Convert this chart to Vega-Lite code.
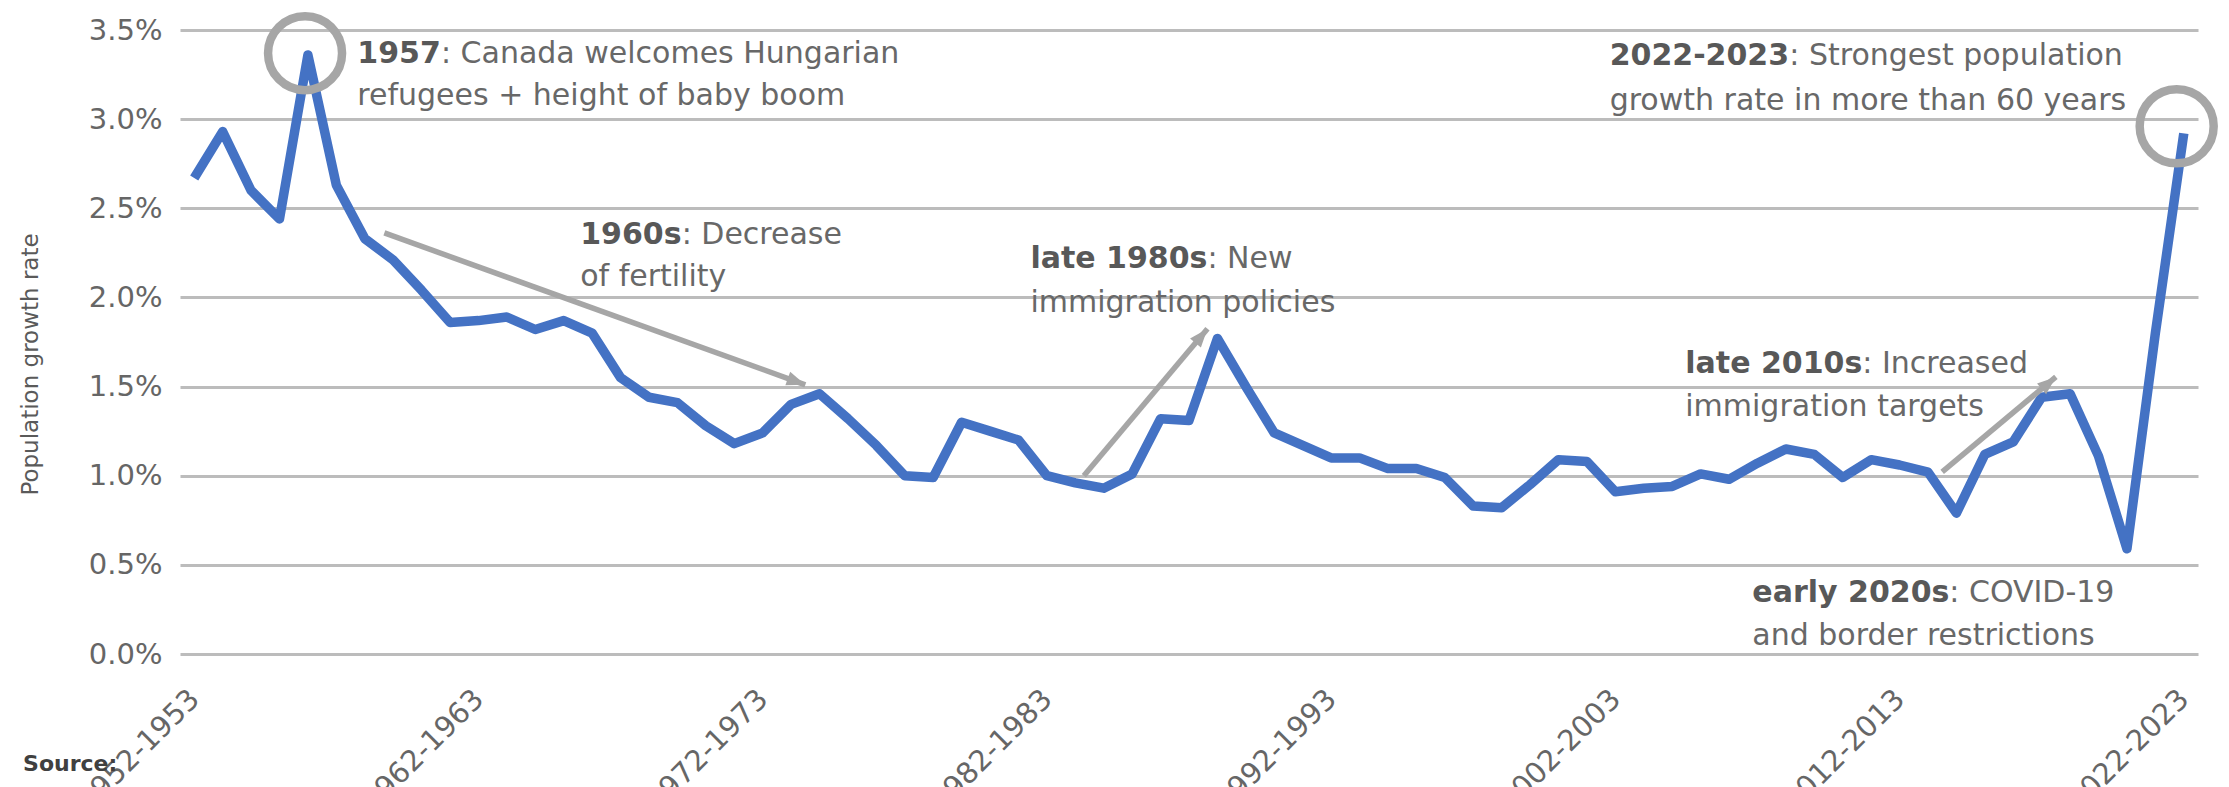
{
  "$schema": "https://vega.github.io/schema/vega-lite/v6.json",
  "width": 2018,
  "height": 624,
  "autosize": {"type": "none"},
  "padding": {"left": 180, "top": 30, "right": 31, "bottom": 133},
  "background": "white",
  "config": {"font": "DejaVu Sans", "view": {"stroke": null}},
  "datasets": {
    "growth": [
      {"period": "1952-1953", "year": 1952, "rate": 0.0267},
      {"period": "1953-1954", "year": 1953, "rate": 0.0293},
      {"period": "1954-1955", "year": 1954, "rate": 0.0260},
      {"period": "1955-1956", "year": 1955, "rate": 0.0244},
      {"period": "1956-1957", "year": 1956, "rate": 0.0336},
      {"period": "1957-1958", "year": 1957, "rate": 0.0263},
      {"period": "1958-1959", "year": 1958, "rate": 0.0233},
      {"period": "1959-1960", "year": 1959, "rate": 0.0221},
      {"period": "1960-1961", "year": 1960, "rate": 0.0204},
      {"period": "1961-1962", "year": 1961, "rate": 0.0186},
      {"period": "1962-1963", "year": 1962, "rate": 0.0187},
      {"period": "1963-1964", "year": 1963, "rate": 0.0189},
      {"period": "1964-1965", "year": 1964, "rate": 0.0182},
      {"period": "1965-1966", "year": 1965, "rate": 0.0187},
      {"period": "1966-1967", "year": 1966, "rate": 0.0180},
      {"period": "1967-1968", "year": 1967, "rate": 0.0155},
      {"period": "1968-1969", "year": 1968, "rate": 0.0144},
      {"period": "1969-1970", "year": 1969, "rate": 0.0141},
      {"period": "1970-1971", "year": 1970, "rate": 0.0128},
      {"period": "1971-1972", "year": 1971, "rate": 0.0118},
      {"period": "1972-1973", "year": 1972, "rate": 0.0124},
      {"period": "1973-1974", "year": 1973, "rate": 0.0140},
      {"period": "1974-1975", "year": 1974, "rate": 0.0146},
      {"period": "1975-1976", "year": 1975, "rate": 0.0132},
      {"period": "1976-1977", "year": 1976, "rate": 0.0117},
      {"period": "1977-1978", "year": 1977, "rate": 0.0100},
      {"period": "1978-1979", "year": 1978, "rate": 0.0099},
      {"period": "1979-1980", "year": 1979, "rate": 0.0130},
      {"period": "1980-1981", "year": 1980, "rate": 0.0125},
      {"period": "1981-1982", "year": 1981, "rate": 0.0120},
      {"period": "1982-1983", "year": 1982, "rate": 0.0100},
      {"period": "1983-1984", "year": 1983, "rate": 0.0096},
      {"period": "1984-1985", "year": 1984, "rate": 0.0093},
      {"period": "1985-1986", "year": 1985, "rate": 0.0101},
      {"period": "1986-1987", "year": 1986, "rate": 0.0132},
      {"period": "1987-1988", "year": 1987, "rate": 0.0131},
      {"period": "1988-1989", "year": 1988, "rate": 0.0177},
      {"period": "1989-1990", "year": 1989, "rate": 0.0150},
      {"period": "1990-1991", "year": 1990, "rate": 0.0124},
      {"period": "1991-1992", "year": 1991, "rate": 0.0117},
      {"period": "1992-1993", "year": 1992, "rate": 0.0110},
      {"period": "1993-1994", "year": 1993, "rate": 0.0110},
      {"period": "1994-1995", "year": 1994, "rate": 0.0104},
      {"period": "1995-1996", "year": 1995, "rate": 0.0104},
      {"period": "1996-1997", "year": 1996, "rate": 0.0099},
      {"period": "1997-1998", "year": 1997, "rate": 0.0083},
      {"period": "1998-1999", "year": 1998, "rate": 0.0082},
      {"period": "1999-2000", "year": 1999, "rate": 0.0095},
      {"period": "2000-2001", "year": 2000, "rate": 0.0109},
      {"period": "2001-2002", "year": 2001, "rate": 0.0108},
      {"period": "2002-2003", "year": 2002, "rate": 0.0091},
      {"period": "2003-2004", "year": 2003, "rate": 0.0093},
      {"period": "2004-2005", "year": 2004, "rate": 0.0094},
      {"period": "2005-2006", "year": 2005, "rate": 0.0101},
      {"period": "2006-2007", "year": 2006, "rate": 0.0098},
      {"period": "2007-2008", "year": 2007, "rate": 0.0107},
      {"period": "2008-2009", "year": 2008, "rate": 0.0115},
      {"period": "2009-2010", "year": 2009, "rate": 0.0112},
      {"period": "2010-2011", "year": 2010, "rate": 0.0099},
      {"period": "2011-2012", "year": 2011, "rate": 0.0109},
      {"period": "2012-2013", "year": 2012, "rate": 0.0106},
      {"period": "2013-2014", "year": 2013, "rate": 0.0102},
      {"period": "2014-2015", "year": 2014, "rate": 0.0079},
      {"period": "2015-2016", "year": 2015, "rate": 0.0112},
      {"period": "2016-2017", "year": 2016, "rate": 0.0119},
      {"period": "2017-2018", "year": 2017, "rate": 0.0144},
      {"period": "2018-2019", "year": 2018, "rate": 0.0146},
      {"period": "2019-2020", "year": 2019, "rate": 0.0111},
      {"period": "2020-2021", "year": 2020, "rate": 0.0059},
      {"period": "2021-2022", "year": 2021, "rate": 0.0180},
      {"period": "2022-2023", "year": 2022, "rate": 0.0292}
    ],
    "notes": [
      {"year": 1957.74, "rate": 0.03315, "text": "1957", "weight": "bold"},
      {"year": 1960.68, "rate": 0.03315, "text": ": Canada welcomes Hungarian", "weight": "regular"},
      {"year": 1957.74, "rate": 0.0308, "text": "refugees + height of baby boom", "weight": "regular"},
      {"year": 1965.58, "rate": 0.0230, "text": "1960s", "weight": "bold"},
      {"year": 1969.15, "rate": 0.0230, "text": ": Decrease", "weight": "regular"},
      {"year": 1965.58, "rate": 0.02065, "text": "of fertility", "weight": "regular"},
      {"year": 1981.42, "rate": 0.02164, "text": "late 1980s", "weight": "bold"},
      {"year": 1987.65, "rate": 0.02164, "text": ": New", "weight": "regular"},
      {"year": 1981.42, "rate": 0.0192, "text": "immigration policies", "weight": "regular"},
      {"year": 2004.46, "rate": 0.01575, "text": "late 2010s", "weight": "bold"},
      {"year": 2010.69, "rate": 0.01575, "text": ": Increased", "weight": "regular"},
      {"year": 2004.46, "rate": 0.01335, "text": "immigration targets", "weight": "regular"},
      {"year": 2006.82, "rate": 0.0029, "text": "early 2020s", "weight": "bold"},
      {"year": 2013.75, "rate": 0.0029, "text": ": COVID-19", "weight": "regular"},
      {"year": 2006.82, "rate": 0.0005, "text": "and border restrictions", "weight": "regular"},
      {"year": 2001.8, "rate": 0.03304, "text": "2022-2023", "weight": "bold"},
      {"year": 2008.12, "rate": 0.03304, "text": ": Strongest population", "weight": "regular"},
      {"year": 2001.8, "rate": 0.03052, "text": "growth rate in more than 60 years", "weight": "regular"}
    ],
    "arrows": [
      {"start_year": 1958.69, "start_rate": 0.02362, "end_year": 1973.5, "end_rate": 0.0151},
      {"start_year": 1983.3, "start_rate": 0.0100, "end_year": 1987.65, "end_rate": 0.01824},
      {"start_year": 2013.5, "start_rate": 0.01022, "end_year": 2017.5, "end_rate": 0.01554}
    ],
    "rings": [
      {"year": 1955.9, "rate": 0.0337},
      {"year": 2021.75, "rate": 0.0296}
    ]
  },
  "layer": [
    {
      "data": {"name": "growth"},
      "mark": {"type": "line", "color": "#4472C4", "strokeWidth": 9.5, "strokeJoin": "round"},
      "encoding": {
        "x": {
          "field": "year", "type": "quantitative",
          "scale": {"domain": [1951.5, 2022.5], "nice": false, "zero": false},
          "axis": {
            "values": [1952, 1962, 1972, 1982, 1992, 2002, 2012, 2022],
            "labelExpr": "datum.value + '-' + (datum.value + 1)",
            "labelAngle": -45, "labelAlign": "right", "labelBaseline": "middle",
            "labelPadding": 40, "labelFontSize": 29, "labelColor": "#666666",
            "labelFlush": false, "labelOverlap": false,
            "grid": false, "ticks": false, "domain": false, "title": null
          }
        },
        "y": {
          "field": "rate", "type": "quantitative",
          "scale": {"domain": [0, 0.035], "nice": false},
          "axis": {
            "values": [0, 0.005, 0.01, 0.015, 0.02, 0.025, 0.03, 0.035],
            "format": ".1%",
            "labelFontSize": 29, "labelColor": "#666666", "labelPadding": 18,
            "grid": true, "gridColor": "#bcbcbc", "gridWidth": 3,
            "ticks": false, "domain": false,
            "title": "Population growth rate", "titleFontSize": 23, "titleFontWeight": "normal",
            "titleColor": "#5a5a5a", "titleX": -150, "titleY": 334, "titleAngle": -90,
            "titleAlign": "center", "titleBaseline": "middle"
          }
        }
      }
    },
    {
      "data": {"name": "arrows"},
      "mark": {"type": "rule", "color": "#a6a6a6", "strokeWidth": 5.5},
      "encoding": {
        "x": {"field": "start_year", "type": "quantitative"},
        "y": {"field": "start_rate", "type": "quantitative"},
        "x2": {"field": "end_year"},
        "y2": {"field": "end_rate"}
      }
    },
    {
      "data": {"values": [{}]},
      "mark": {"type": "point", "shape": "M0,0L0.55,1.45L-0.55,1.45Z", "filled": true, "color": "#a6a6a6", "size": 660, "opacity": 1, "angle": 109.8},
      "encoding": {"x": {"datum": 1973.5, "type": "quantitative"}, "y": {"datum": 0.0151, "type": "quantitative"}}
    },
    {
      "data": {"values": [{}]},
      "mark": {"type": "point", "shape": "M0,0L0.55,1.45L-0.55,1.45Z", "filled": true, "color": "#a6a6a6", "size": 660, "opacity": 1, "angle": 40.1},
      "encoding": {"x": {"datum": 1987.65, "type": "quantitative"}, "y": {"datum": 0.01824, "type": "quantitative"}}
    },
    {
      "data": {"values": [{}]},
      "mark": {"type": "point", "shape": "M0,0L0.55,1.45L-0.55,1.45Z", "filled": true, "color": "#a6a6a6", "size": 660, "opacity": 1, "angle": 50.2},
      "encoding": {"x": {"datum": 2017.5, "type": "quantitative"}, "y": {"datum": 0.01554, "type": "quantitative"}}
    },
    {
      "data": {"name": "rings"},
      "mark": {"type": "point", "shape": "circle", "filled": false, "color": "#a6a6a6", "size": 5476, "strokeWidth": 8.5, "opacity": 1},
      "encoding": {
        "x": {"field": "year", "type": "quantitative"},
        "y": {"field": "rate", "type": "quantitative"}
      }
    },
    {
      "data": {"name": "notes"},
      "transform": [{"filter": "datum.weight == 'bold'"}],
      "mark": {"type": "text", "align": "left", "baseline": "alphabetic", "fontSize": 30, "fontWeight": "bold", "color": "#585858"},
      "encoding": {
        "x": {"field": "year", "type": "quantitative"},
        "y": {"field": "rate", "type": "quantitative"},
        "text": {"field": "text"}
      }
    },
    {
      "data": {"name": "notes"},
      "transform": [{"filter": "datum.weight == 'regular'"}],
      "mark": {"type": "text", "align": "left", "baseline": "alphabetic", "fontSize": 30, "fontWeight": "normal", "color": "#686868"},
      "encoding": {
        "x": {"field": "year", "type": "quantitative"},
        "y": {"field": "rate", "type": "quantitative"},
        "text": {"field": "text"}
      }
    },
    {
      "data": {"values": [{}]},
      "mark": {"type": "text", "align": "left", "baseline": "alphabetic", "fontSize": 22, "fontWeight": "bold", "color": "#404040"},
      "encoding": {
        "x": {"datum": 1945.98, "type": "quantitative"},
        "y": {"datum": -0.00656, "type": "quantitative"},
        "text": {"value": "Source:"}
      }
    }
  ]
}
